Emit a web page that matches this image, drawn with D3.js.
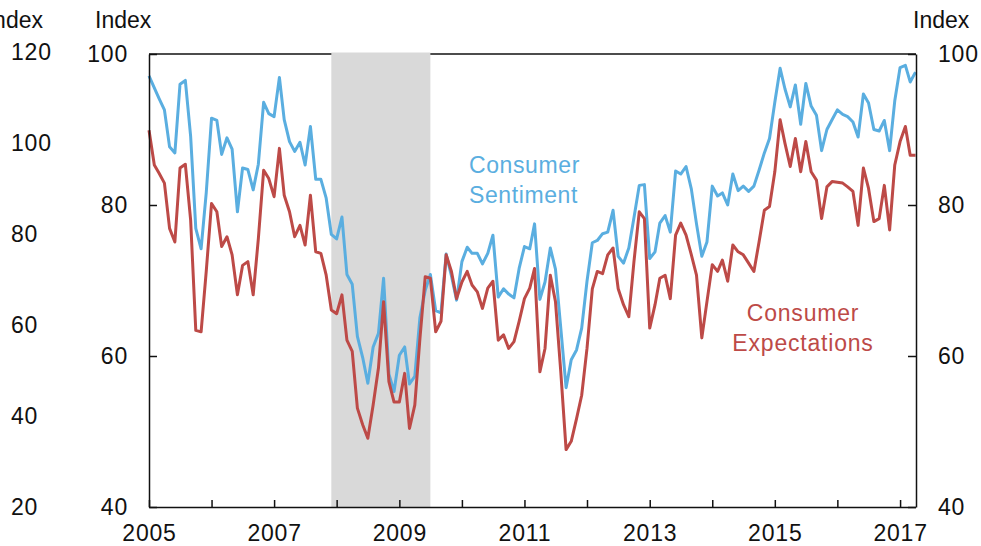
<!DOCTYPE html>
<html>
<head>
<meta charset="utf-8">
<script src="https://cdn.jsdelivr.net/npm/d3@7"></script>
<style>
  body { margin: 0; background: #fff; }
  svg { display: block; font-family: "Liberation Sans", Arial, sans-serif; }
</style>
</head>
<body>
<svg id="chart" width="981" height="546"></svg>
<script>
// monthly data, Dec 2004 .. Mar 2017
const firstMonth = new Date(2004, 11, 1);

const sentiment = [
  97.1,
  95.5, 94.1, 92.6, 87.7, 86.9, 96.0, 96.5, 89.1, 76.9, 74.2, 81.6, 91.5,
  91.2, 86.7, 88.9, 87.4, 79.1, 84.9, 84.7, 82.0, 85.4, 93.6, 92.1, 91.7,
  96.9, 91.3, 88.4, 87.1, 88.3, 85.3, 90.4, 83.4, 83.4, 80.9, 76.1, 75.5,
  78.4, 70.8, 69.5, 62.6, 59.8, 56.4, 61.2, 63.0, 70.3, 57.6, 55.3, 60.1,
  61.2, 56.3, 57.3, 65.1, 68.7, 70.8, 66.0, 65.7, 73.5, 70.6, 67.4, 72.5,
  74.4, 73.6, 73.6, 72.2, 73.6, 76.0, 67.8, 68.9, 68.2, 67.7, 71.6, 74.5,
  74.2, 77.5, 67.5, 69.8, 74.3, 71.5, 63.7, 55.8, 59.5, 60.8, 63.7, 69.9,
  75.0, 75.3, 76.2, 76.4, 79.3, 73.2, 72.3, 74.3, 78.3, 82.6, 82.7, 72.9,
  73.8, 77.6, 78.6, 76.4, 84.5, 84.1, 85.1, 82.1, 77.5, 73.2, 75.1, 82.5,
  81.2, 81.6, 80.0, 84.1, 81.9, 82.5, 81.8, 82.5, 84.6, 86.9, 88.8, 93.6,
  98.1, 95.4, 93.0, 95.9, 90.7, 96.1, 93.1, 91.9, 87.2, 90.0, 91.3, 92.6,
  92.0, 91.7, 91.0, 89.0, 94.7, 93.5, 90.0, 89.8, 91.2, 87.2, 93.8, 98.2,
  98.5, 96.3, 97.6
];

const expectations = [
  89.9,
  85.3, 84.2, 82.9, 76.9, 75.1, 84.9, 85.4, 78.0, 63.4, 63.2, 71.2, 80.2,
  79.1, 74.5, 75.8, 73.4, 68.1, 72.0, 72.5, 68.1, 75.5, 84.6, 83.5, 81.1,
  87.5, 81.3, 79.1, 75.8, 77.3, 74.7, 81.3, 73.8, 73.6, 70.7, 66.1, 65.6,
  68.1, 62.1, 60.6, 53.1, 50.9, 49.1, 53.5, 58.4, 67.2, 56.6, 53.9, 53.9,
  57.7, 50.4, 53.5, 62.3, 70.5, 70.3, 63.2, 64.6, 73.4, 71.2, 67.6, 69.8,
  71.2, 69.4, 68.5, 66.3, 69.0, 69.9, 62.1, 62.8, 61.0, 61.9, 64.6, 67.6,
  69.0, 71.6, 57.9, 61.0, 70.7, 67.2, 57.9, 47.6, 48.7, 51.7, 54.8, 61.0,
  68.9, 71.2, 70.9, 73.4, 74.3, 68.9, 66.8, 65.2, 72.5, 79.1, 78.2, 63.7,
  66.8, 70.3, 70.7, 67.6, 76.0, 77.6, 76.0, 73.4, 70.7, 62.4, 67.2, 72.1,
  71.2, 72.7, 69.9, 74.7, 73.8, 73.4, 72.3, 71.2, 75.1, 79.3, 79.8, 84.4,
  91.3, 88.2, 85.1, 88.8, 84.4, 88.4, 84.4, 83.3, 78.2, 82.4, 83.1, 83.0,
  82.9, 82.4, 81.8, 77.3, 84.9, 82.2, 77.8, 78.2, 82.6, 76.7, 85.3, 88.4,
  90.4, 86.6, 86.6
];

const recession = [new Date(2007, 11, 1), new Date(2009, 6, 1)];
const yTicks = [40, 60, 80, 100];
const ghostTicks = [20, 40, 60, 80, 100, 120];
const yearTicks = d3.range(2005, 2018);

const blue = "#5aaee0";
const red = "#bd4a47";
const ink = "#111";

const svg = d3.select("#chart");
const plotLeft = 149, plotRight = 916, plotTop = 54, plotBottom = 507;

// values are plotted at month end
const dates = sentiment.map((d, i) => d3.timeMonth.offset(firstMonth, i + 1));

const x = d3.scaleTime()
  .domain([new Date(2005, 0, 1), new Date(2017, 3, 1)])
  .range([plotLeft, plotRight - 0.5]);
const y = d3.scaleLinear().domain([40, 100]).range([plotBottom, plotTop]);
const yGhost = d3.scaleLinear().domain([20, 120]).range([507, 52]);

// top frame line
svg.append("line")
  .attr("x1", plotLeft).attr("x2", plotRight)
  .attr("y1", plotTop).attr("y2", plotTop)
  .attr("stroke", ink).attr("stroke-width", 1.5);

// recession shading
svg.append("rect")
  .attr("x", x(recession[0]))
  .attr("width", x(recession[1]) - x(recession[0]))
  .attr("y", plotTop - 1.5)
  .attr("height", plotBottom - plotTop + 1.5)
  .attr("fill", "#d9d9d9");

const line = d3.line()
  .x((d, i) => x(dates[i]))
  .y((d) => y(d));

svg.append("path")
  .datum(sentiment)
  .attr("d", line)
  .attr("fill", "none")
  .attr("stroke", blue)
  .attr("stroke-width", 3)
  .attr("stroke-linejoin", "round");

svg.append("path")
  .datum(expectations)
  .attr("d", line)
  .attr("fill", "none")
  .attr("stroke", red)
  .attr("stroke-width", 3)
  .attr("stroke-linejoin", "round");

// axes
const styleAxis = (g) => {
  g.selectAll("path, line").attr("stroke", ink).attr("stroke-width", 1.5);
  g.selectAll("text")
    .attr("fill", ink)
    .style("font-size", "23px")
    .style("letter-spacing", "0.8px");
};

svg.append("g")
  .attr("transform", `translate(${plotLeft},0)`)
  .call(d3.axisLeft(y).tickValues(yTicks).tickSizeInner(-8).tickSizeOuter(0).tickPadding(21))
  .call(styleAxis);

svg.append("g")
  .attr("transform", `translate(${plotRight},0)`)
  .call(d3.axisRight(y).tickValues(yTicks).tickSizeInner(-8).tickSizeOuter(0).tickPadding(22))
  .call(styleAxis);

svg.append("g")
  .attr("transform", `translate(0,${plotBottom})`)
  .call(
    d3.axisBottom(x)
      .tickValues(yearTicks.map((yr) => new Date(yr, 0, 1)))
      .tickFormat((d) => (d.getFullYear() % 2 === 1 ? d.getFullYear() : ""))
      .tickSizeInner(-7)
      .tickSizeOuter(0)
      .tickPadding(18)
  )
  .call(styleAxis);

// partial axis of a neighbouring panel on the far left
svg.append("g")
  .attr("transform", "translate(11,0)")
  .call(d3.axisRight(yGhost).tickValues(ghostTicks).tickSize(0).tickPadding(0))
  .call((g) => g.select(".domain").remove())
  .call(styleAxis);

// unit labels
const unit = [
  { text: "Index", x: 43, anchor: "end" },
  { text: "Index", x: 95, anchor: "start" },
  { text: "Index", x: 913, anchor: "start" }
];
svg.selectAll(".unit")
  .data(unit)
  .enter()
  .append("text")
  .attr("class", "unit")
  .attr("x", (d) => d.x)
  .attr("y", 28)
  .attr("text-anchor", (d) => d.anchor)
  .attr("fill", ink)
  .style("font-size", "23px")
  .text((d) => d.text);

// series labels
const sentLabel = svg.append("text")
  .attr("x", 469).attr("y", 173)
  .attr("fill", blue)
  .style("font-size", "23px")
  .style("letter-spacing", "0.6px");
sentLabel.append("tspan").attr("x", 469).text("Consumer");
sentLabel.append("tspan").attr("x", 469).attr("dy", 30).text("Sentiment");

const expLabel = svg.append("text")
  .attr("x", 803).attr("y", 321)
  .attr("text-anchor", "middle")
  .attr("fill", red)
  .style("font-size", "23px")
  .style("letter-spacing", "0.8px");
expLabel.append("tspan").attr("x", 803).text("Consumer");
expLabel.append("tspan").attr("x", 803).attr("dy", 30).text("Expectations");
</script>
</body>
</html>
